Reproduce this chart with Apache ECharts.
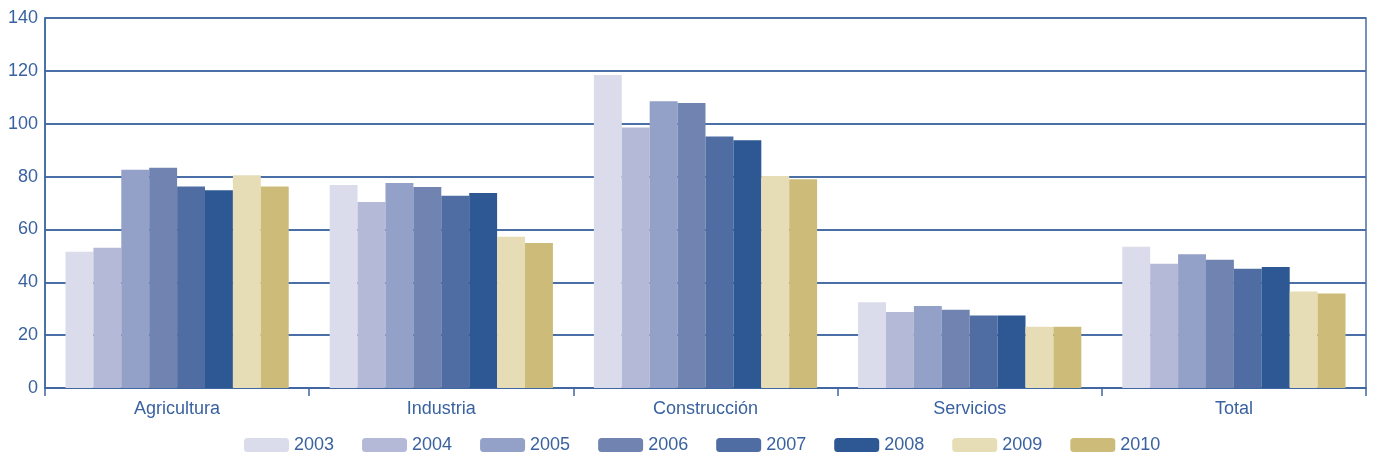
<!DOCTYPE html>
<html><head><meta charset="utf-8">
<script src="https://cdn.jsdelivr.net/npm/echarts@6/dist/echarts.min.js"></script>
<style>html,body{margin:0;padding:0;background:#fff}#c{width:1373px;height:458px}</style>
</head><body><div id="c"></div>
<script>
const categories = ['Agricultura', 'Industria', 'Construcción', 'Servicios', 'Total'];
const years = ['2003', '2004', '2005', '2006', '2007', '2008', '2009', '2010'];
const v2003 = [51.6, 76.8, 118.4, 32.4, 53.4];
const v2004 = [53.1, 70.4, 98.6, 28.8, 47.0];
const v2005 = [82.6, 77.6, 108.5, 31.0, 50.6];
const v2006 = [83.3, 76.1, 107.8, 29.6, 48.5];
const v2007 = [76.2, 72.7, 95.2, 27.4, 45.1];
const v2008 = [74.8, 73.8, 93.7, 27.4, 45.8];
const v2009 = [80.5, 57.2, 80.2, 23.2, 36.5];
const v2010 = [76.2, 54.9, 79.0, 23.2, 35.8];
const yTicks = [0, 20, 40, 60, 80, 100, 120, 140];
const seriesValues = [v2003, v2004, v2005, v2006, v2007, v2008, v2009, v2010];
const colors = ['#dadcec', '#b5b9d8', '#93a0c8', '#7083b1', '#4f6da3', '#2d5893', '#e6ddb7', '#cdbc79'];
const blue = '#3a62a0';
const chart = echarts.init(document.getElementById('c'), null, {renderer: 'canvas'});
chart.setOption({
  animation: false,
  color: colors,
  grid: {left: 45, right: 7, top: 18, bottom: 70, show: true, borderColor: '#4a6ea6', borderWidth: 1.5, backgroundColor: 'transparent'},
  legend: {
    top: 436, left: 244, padding: 0, itemWidth: 45, itemHeight: 14, itemGap: 28, icon: 'roundRect',
    textStyle: {color: blue, fontSize: 18, fontFamily: 'Liberation Sans'},
    data: years
  },
  xAxis: {
    type: 'category', data: categories,
    axisLine: {lineStyle: {color: '#3f66a2', width: 1.5}},
    axisTick: {show: true, length: 8, lineStyle: {color: '#3f66a2', width: 1.5}},
    axisLabel: {color: blue, fontSize: 18, fontFamily: 'Liberation Sans', margin: 12}
  },
  yAxis: {
    type: 'value', min: yTicks[0], max: yTicks[yTicks.length - 1], interval: 20,
    axisLine: {show: true, lineStyle: {color: '#3f66a2', width: 1.5}},
    axisTick: {show: false},
    axisLabel: {color: blue, fontSize: 18, fontFamily: 'Liberation Sans', margin: 7},
    splitLine: {lineStyle: {color: '#4a6ea6', width: 1.8}}
  },
  series: years.map((y, i) => ({
    name: y, type: 'bar', data: seriesValues[i],
    barGap: '0%', barCategoryGap: '15.5%',
    itemStyle: {color: colors[i]}
  }))
});
</script></body></html>
